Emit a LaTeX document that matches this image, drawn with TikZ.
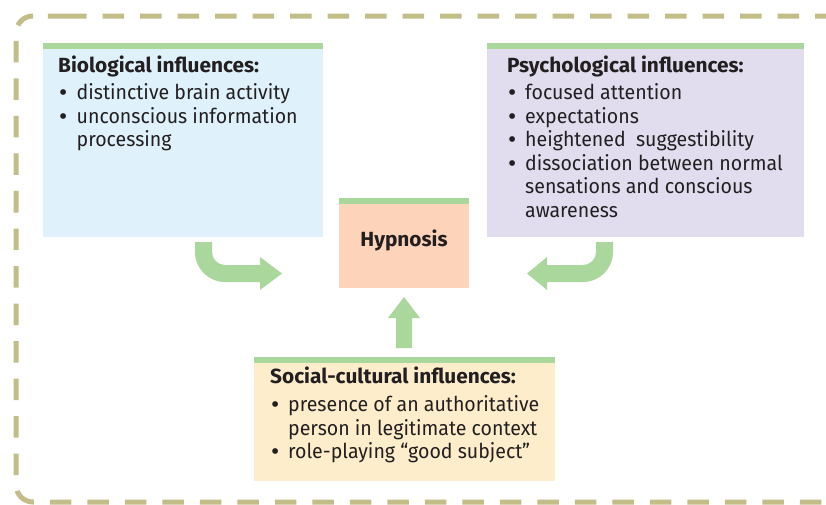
\documentclass[tikz,border=0pt]{standalone}
\usepackage{fontspec}
\setmainfont{Fira Sans}[FakeStretch=0.954, BoldFeatures={FakeStretch=1.015}]
\definecolor{bioblue}{HTML}{DFF1FB}
\definecolor{psypurple}{HTML}{E1DDEF}
\definecolor{hyppeach}{HTML}{FDD3B9}
\definecolor{soccream}{HTML}{FEEDCB}
\definecolor{bargreen}{HTML}{A9D79C}
\definecolor{dashcol}{HTML}{C3BD87}
\definecolor{inkcol}{HTML}{231F20}
\newcommand{\blt}{\makebox[10pt][c]{\bfseries\textbullet}}
\begin{document}
\begin{tikzpicture}[x=1pt,y=-1pt,
  panel/.style={rectangle, anchor=north west, inner sep=0pt, draw=none},
  txt/.style={anchor=base west, inner sep=0pt, text=inkcol, font=\fontsize{20.5}{23.5}\selectfont},
  bar/.style={fill=bargreen},
  blockarrow/.style={fill=bargreen},
  dashframe/.style={draw=dashcol, line width=5pt, dash pattern=on 21.5pt off 16pt, rounded corners=17pt}
]
\useasboundingbox (0,0) rectangle (826,504);
\clip (0,0) rectangle (826,504);
\fill[white] (0,0) rectangle (826,504);

% dashed frame (its right side lies outside the picture)
\draw[dashframe] (48,16) -- (845,16) -- (845,502) -- (16,502) -- (16,16) -- cycle;

% panels
\node[panel, fill=bioblue, minimum width=280pt, minimum height=194pt] (bio) at (43,43) {};
\node[panel, fill=psypurple, minimum width=317pt, minimum height=194pt] (psy) at (487,43) {};
\node[panel, fill=hyppeach, minimum width=130pt, minimum height=90pt] (hyp) at (339,198) {};
\node[panel, fill=soccream, minimum width=301pt, minimum height=124pt] (soc) at (254,357) {};

% green top bars
\foreach \p in {bio,psy,hyp,soc}{
  \fill[bar] (\p.north west) rectangle ([yshift=-5.5pt]\p.north east);
}

% texts
\node[txt] (biot) at (58,72) {\begin{tabular}[t]{@{}l@{\hspace{8.5pt}}l@{}}
\multicolumn{2}{@{}l@{}}{\bfseries Biological influences:}\\[4pt]
\blt & distinctive brain activity\\
\blt & unconscious information\\
 & processing
\end{tabular}};

\node[txt] (psyt) at (507,72) {\begin{tabular}[t]{@{}l@{\hspace{8pt}}l@{}}
\multicolumn{2}{@{}l@{}}{\bfseries Psychological influences:}\\[4pt]
\blt & focused attention\\
\blt & expectations\\
\blt & heightened\ \ suggestibility\\
\blt & dissociation between normal\\
 & sensations and conscious\\
 & awareness
\end{tabular}};

\node[txt] (soct) at (270,383) {\begin{tabular}[t]{@{}l@{\hspace{8pt}}l@{}}
\multicolumn{2}{@{}l@{}}{\bfseries Social-cultural influences:}\\[5pt]
\blt & presence of an authoritative\\
 & person in legitimate context\\
\blt & role-playing ``good subject''
\end{tabular}};

\node[txt, anchor=base, font=\fontsize{20.5}{23.5}\selectfont\bfseries] (hypt) at (404,246) {Hypnosis};

% block arrows
\fill[blockarrow] (195,242) -- (195,252) arc[start angle=180, end angle=90, radius=30]
  -- (260,282) -- (260,290) -- (282,273.5) -- (260,257) -- (260,265)
  -- (225,265) arc[start angle=90, end angle=180, radius=13] -- (212,242) -- cycle;

\fill[blockarrow] (613,242) -- (613,252) arc[start angle=0, end angle=90, radius=30]
  -- (547,282) -- (547,290) -- (527,273.5) -- (547,257) -- (547,265)
  -- (583,265) arc[start angle=90, end angle=0, radius=13] -- (596,242) -- cycle;

\fill[blockarrow] (396,348) -- (396,318) -- (388,318) -- (404,297) -- (420,318)
  -- (412,318) -- (412,348) -- cycle;
\end{tikzpicture}
\end{document}
